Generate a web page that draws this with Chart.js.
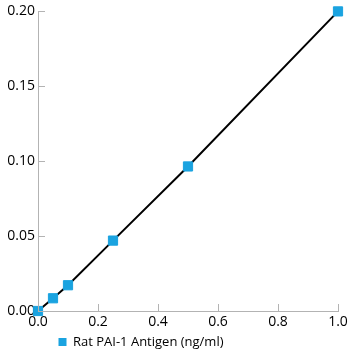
<!DOCTYPE html>
<html><head><meta charset="utf-8">
<script src="https://cdn.jsdelivr.net/npm/chart.js@4/dist/chart.umd.min.js"></script>
<style>html,body{margin:0;padding:0;background:#fff}#w{width:360px;height:360px}</style>
</head><body><div id="w"><canvas id="c"></canvas></div>
<script>
const concentrations = [0, 0.05, 0.1, 0.25, 0.5, 1.0];
const odValues = [0.000, 0.0085, 0.0172, 0.047, 0.0965, 0.200];
const xTicks = [0, 0.2, 0.4, 0.6, 0.8, 1.0];
const yTicks = [0, 0.05, 0.10, 0.15, 0.20];
const seriesLabel = 'Rat PAI-1 Antigen (ng/ml)';

const FONT = "'Open Sans', sans-serif";
const innerTicks = {
  id: 'innerTicks',
  afterLayout(chart) {
    chart.legend.left += 15;
    chart.legend.right += 15;
  },
  afterDatasetsDraw(chart) {
    const ctx = chart.ctx, a = chart.chartArea;
    const xs = chart.scales.x, ys = chart.scales.y;
    ctx.save();
    ctx.strokeStyle = '#b3b3b3';
    ctx.lineWidth = 1;
    ctx.beginPath();
    xTicks.forEach(v => { const p = Math.round(xs.getPixelForValue(v)) + 0.5; ctx.moveTo(p, a.bottom); ctx.lineTo(p, a.bottom - 7); });
    yTicks.forEach(v => { const p = Math.round(ys.getPixelForValue(v)) + 0.5; ctx.moveTo(a.left, p); ctx.lineTo(a.left + 7, p); });
    ctx.stroke();
    ctx.restore();
  }
};

new Chart(document.getElementById('c'), {
  type: 'line',
  data: {
    datasets: [{
      label: seriesLabel,
      data: concentrations.map((x, i) => ({x, y: odValues[i]})),
      borderColor: '#000',
      borderWidth: 2,
      backgroundColor: '#1aa3e0',
      pointBackgroundColor: '#1aa3e0',
      pointBorderColor: '#1aa3e0',
      pointBorderWidth: 1,
      pointStyle: 'rect',
      pointRadius: 6.5,
      tension: 0,
      clip: false
    }]
  },
  options: {
    responsive: true,
    maintainAspectRatio: false,
    animation: false,
    layout: { padding: { top: 10, right: 22, left: 0, bottom: 1.5 } },
    plugins: {
      tooltip: { enabled: false },
      legend: {
        position: 'bottom',
        align: 'start',
        fullSize: false,
        labels: {
          boxWidth: 8, boxHeight: 8, padding: 5.5,
          color: '#000',
          font: { family: FONT, size: 13 },
          generateLabels(chart) {
            return [{ text: seriesLabel, fillStyle: '#1aa3e0', strokeStyle: '#1aa3e0', lineWidth: 0, datasetIndex: 0 }];
          }
        }
      }
    },
    scales: {
      x: {
        type: 'linear', min: 0, max: 1.0,
        afterBuildTicks(s) { s.ticks = xTicks.map(v => ({value: v})); },
        afterFit(s) { s.height = 19; },
        grid: { drawOnChartArea: false, drawTicks: false },
        border: { color: '#b3b3b3', width: 1 },
        ticks: { padding: 3, color: '#000', font: { family: FONT, size: 14 }, callback: v => v.toFixed(1) }
      },
      y: {
        type: 'linear', min: 0, max: 0.2,
        afterBuildTicks(s) { s.ticks = yTicks.map(v => ({value: v})); },
        afterFit(s) { s.width = 38; },
        grid: { drawOnChartArea: false, drawTicks: false },
        border: { color: '#b3b3b3', width: 1 },
        ticks: { padding: 3, color: '#000', font: { family: FONT, size: 14 }, callback: v => v.toFixed(2) }
      }
    }
  },
  plugins: [innerTicks]
});
</script></body></html>
